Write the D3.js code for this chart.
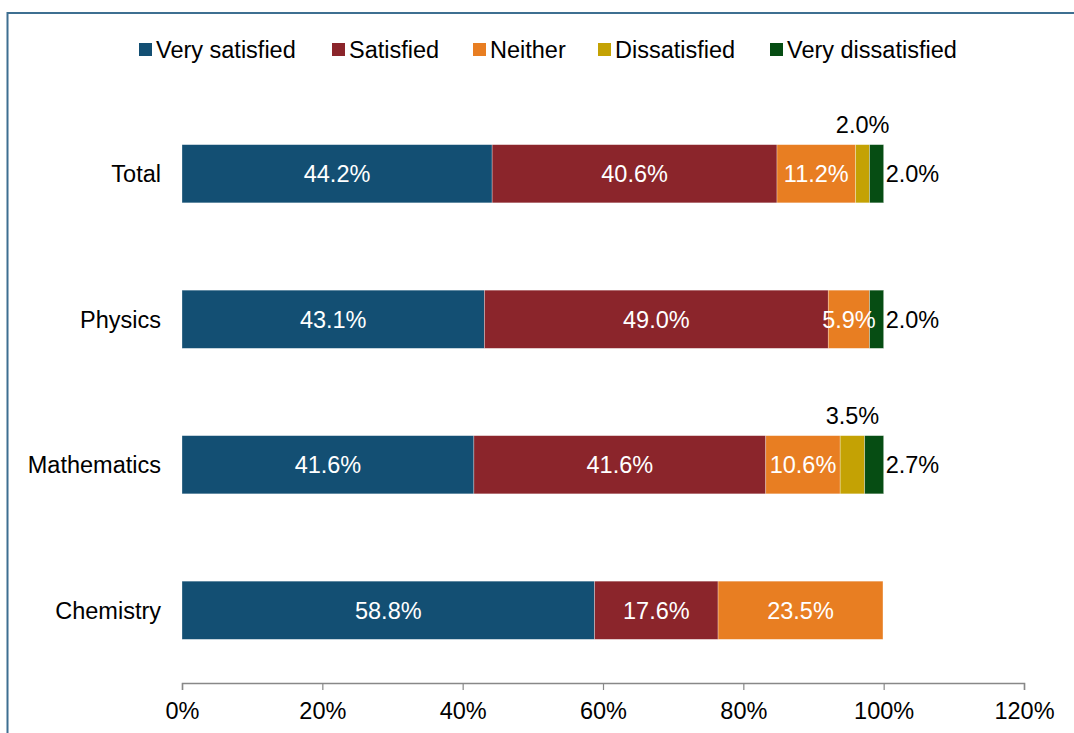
<!DOCTYPE html>
<html><head><meta charset="utf-8">
<script src="https://cdn.jsdelivr.net/npm/d3@7"></script>
<style>body{margin:0;background:#fff;}svg{display:block;font-family:"Liberation Sans",Arial,sans-serif;}</style>
</head><body>
<svg id="c" width="1074" height="733"></svg>
<script>
const categories = ["Total","Physics","Mathematics","Chemistry"];
const seriesNames = ["Very satisfied","Satisfied","Neither","Dissatisfied","Very dissatisfied"];
const verySatisfied = [44.2,43.1,41.6,58.8];
const satisfied = [40.6,49.0,41.6,17.6];
const neither = [11.2,5.9,10.6,23.5];
const dissatisfied = [2.0,0,3.5,0];
const veryDissatisfied = [2.0,2.0,2.7,0];
const xTicks = [0,20,40,60,80,100,120];
const colors = ["#134F73","#8B252B","#E87E22","#C4A204","#064D13"];
const FS = 23.5;

const svg = d3.select("#c");
// frame
svg.append("rect").attr("x",7.5).attr("y",13).attr("width",1080).attr("height",740)
  .attr("fill","none").attr("stroke","#3E6F91").attr("stroke-width",2);

const m = {left:182, right:1024, top:101, bottom:683};
const x = d3.scaleLinear().domain([0,120]).range([m.left,m.right]);
const y = d3.scaleBand().domain(categories).range([m.top,m.bottom]).paddingInner(0.6).paddingOuter(0.3);

const rows = categories.map((c,i)=>({cat:c, vals:[verySatisfied[i],satisfied[i],neither[i],dissatisfied[i],veryDissatisfied[i]]}));
const stack = d3.stack().keys([0,1,2,3,4]).value((d,k)=>d.vals[k]);
const series = stack(rows);

series.forEach((s,k)=>{
  svg.append("g").selectAll("rect").data(s.filter(d=>d[1]-d[0]>0)).join("rect")
    .attr("x",d=>x(d[0])).attr("width",d=>x(d[1])-x(d[0]))
    .attr("y",d=>y(d.data.cat)).attr("height",y.bandwidth())
    .attr("fill",colors[k]).attr("stroke","#fff").attr("stroke-opacity",0.5).attr("stroke-width",0.6);
});

// labels
series.forEach((s,k)=>{
  s.forEach(d=>{
    const v = d[1]-d[0];
    if(v<=0) return;
    const cy = y(d.data.cat)+y.bandwidth()/2;
    const txt = v.toFixed(1)+"%";
    let t;
    if(k<=2){
      t = svg.append("text").attr("x",(x(d[0])+x(d[1]))/2).attr("y",cy).attr("text-anchor","middle").attr("fill","#fff");
    } else if(k===3){
      t = svg.append("text").attr("x",(x(d[0])+x(d[1]))/2).attr("y",cy-49).attr("text-anchor","middle").attr("fill","#000");
    } else {
      t = svg.append("text").attr("x",x(d[1])+2).attr("y",cy).attr("text-anchor","start").attr("fill","#000");
    }
    t.attr("dy","0.36em").attr("font-size",FS).text(txt);
  });
});

// category labels
svg.append("g").selectAll("text").data(categories).join("text")
  .attr("x",161).attr("y",d=>y(d)+y.bandwidth()/2).attr("dy","0.36em")
  .attr("text-anchor","end").attr("font-size",FS).attr("fill","#000").text(d=>d);

// x axis
const ax = svg.append("g").attr("transform",`translate(0,${m.bottom})`)
  .call(d3.axisBottom(x).tickValues(xTicks).tickFormat(d=>d+"%").tickSizeOuter(0).tickSize(7));
ax.select(".domain").attr("stroke","#888").attr("stroke-width",1.5);
ax.selectAll(".tick line").attr("stroke","#888").attr("stroke-width",1.2);
ax.selectAll(".tick text").attr("font-size",FS).attr("fill","#000").attr("font-family","Liberation Sans, Arial, sans-serif").attr("y",0).attr("dy","1.55em");

// legend
const legX = [139,332,473,598,770];
const lg = svg.append("g");
seriesNames.forEach((n,i)=>{
  lg.append("rect").attr("x",legX[i]).attr("y",43).attr("width",13).attr("height",13).attr("fill",colors[i]);
  lg.append("text").attr("x",legX[i]+17).attr("y",50).attr("dy","0.36em").attr("font-size",FS).attr("fill","#000").text(n);
});
</script>
</body></html>
